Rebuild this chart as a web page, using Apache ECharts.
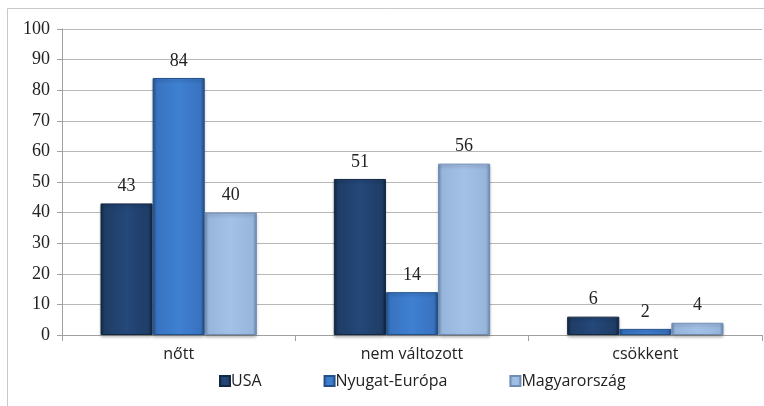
<!DOCTYPE html>
<html>
<head>
<meta charset="utf-8">
<script src="https://cdn.jsdelivr.net/npm/echarts@6/dist/echarts.min.js"></script>
<style>
html, body { margin: 0; padding: 0; background: #fff; }
#chart { width: 764px; height: 406px; }
</style>
</head>
<body>
<div id="chart"></div>
<script>
var categories = ['nőtt', 'nem változott', 'csökkent'];
var usa = [43, 51, 6];
var nyugat = [84, 14, 2];
var magyar = [40, 56, 4];

var chart = echarts.init(document.getElementById('chart'));

function bevel(light, mid, dark) {
    return new echarts.graphic.LinearGradient(0, 0, 1, 0, [
        { offset: 0, color: dark },
        { offset: 0.08, color: mid },
        { offset: 0.5, color: light },
        { offset: 0.92, color: mid },
        { offset: 1, color: dark }
    ]);
}

var labelStyle = {
    show: true,
    position: 'top',
    distance: 8,
    fontFamily: 'Liberation Serif',
    fontSize: 18,
    color: '#222'
};

function makeSeries(name, data, light, mid, dark) {
    return {
        name: name,
        type: 'bar',
        data: data,
        barGap: '0%',
        barCategoryGap: '33%',
        label: labelStyle,
        itemStyle: {
            color: bevel(light, mid, dark),
            borderColor: dark,
            borderWidth: 1,
            shadowColor: 'rgba(0,0,0,0.25)',
            shadowBlur: 3,
            shadowOffsetY: 2
        }
    };
}

var option = {
    animation: false,
    graphic: [{
        type: 'rect',
        shape: { x: 7.5, y: 8.5, width: 900, height: 600 },
        style: { fill: 'none', stroke: '#c8c8c8', lineWidth: 1 },
        silent: true
    }],
    grid: { left: 62, right: 2, top: 29, bottom: 71, containLabel: false },
    legend: {
        top: 368,
        left: 214,
        itemWidth: 10,
        itemHeight: 10,
        itemGap: 62,
        icon: 'rect',
        textStyle: { fontFamily: 'Open Sans', fontSize: 16, color: '#222', padding: [0, 0, 0, -4] },
        data: ['USA', 'Nyugat-Európa', 'Magyarország']
    },
    xAxis: {
        type: 'category',
        data: categories,
        axisLine: { lineStyle: { color: '#a0a0a0' } },
        axisTick: { show: true, length: 6, lineStyle: { color: '#a0a0a0' } },
        axisLabel: { fontFamily: 'Open Sans', fontSize: 16, color: '#222', margin: 11 }
    },
    yAxis: {
        type: 'value',
        min: 0,
        max: 100,
        interval: 10,
        axisLine: { show: true, lineStyle: { color: '#a0a0a0' } },
        axisTick: { show: true, length: 5, lineStyle: { color: '#a0a0a0' } },
        axisLabel: { fontFamily: 'Liberation Serif', fontSize: 18, color: '#222', margin: 12 },
        splitLine: { lineStyle: { color: '#b8b8b8' } }
    },
    series: [
        makeSeries('USA', usa, '#24487a', '#1f3d66', '#132842'),
        makeSeries('Nyugat-Európa', nyugat, '#3f80d2', '#3873c0', '#24508a'),
        makeSeries('Magyarország', magyar, '#a3c0e6', '#98b6dc', '#6f8db4')
    ]
};

chart.setOption(option);
</script>
</body>
</html>
